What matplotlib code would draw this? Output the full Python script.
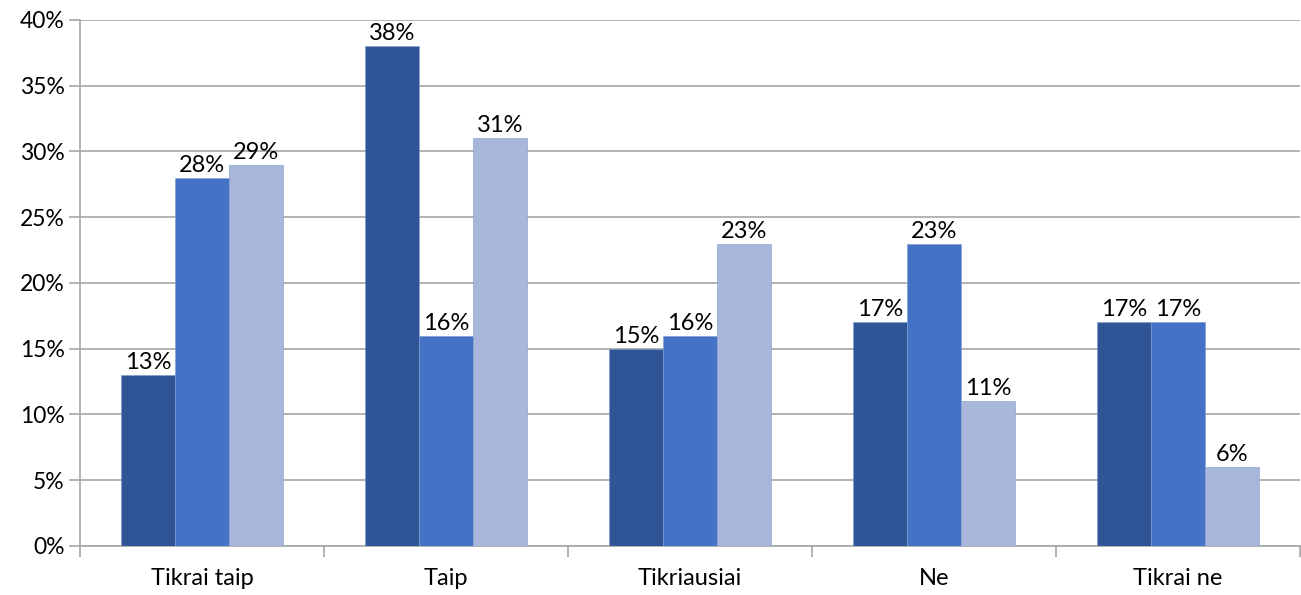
import matplotlib.pyplot as plt
import numpy as np

# kategorijos ir reiksmes (procentais)
kategorijos = ['Tikrai taip', 'Taip', 'Tikriausiai', 'Ne', 'Tikrai ne']
serija1 = [13, 38, 15, 17, 17]
serija2 = [28, 16, 16, 23, 17]
serija3 = [29, 31, 23, 11, 6]
spalvos = ['#2F5597', '#4472C4', '#A9B6DB']

plt.rcParams['font.family'] = ['Lato', 'DejaVu Sans']

fig = plt.figure(figsize=(13.01, 5.95), dpi=100)
ax = fig.add_axes([0.0615, 0.0824, 0.9377, 0.884])

x = np.arange(len(kategorijos))
w = 0.221
for k, (vals, c) in enumerate(zip([serija1, serija2, serija3], spalvos)):
    pos = x + (k - 1) * w
    ax.bar(pos, vals, w, color=c, edgecolor='#7F9BD0', linewidth=0.4, zorder=3)
    for p, v in zip(pos, vals):
        ax.text(p, v + 0.15, f'{v}%', ha='center', va='bottom', fontsize=17, color='black', zorder=4)

ax.set_xlim(-0.5, len(kategorijos) - 0.5)
ax.set_ylim(0, 40)
ax.set_yticks(np.arange(0, 41, 5))
ax.set_yticklabels([f'{t}%' for t in range(0, 41, 5)], fontsize=16.5)
ax.yaxis.grid(True, color='#A6A6A6', linewidth=1.2, zorder=0)

# kategoriju zymes per viduri, tick'ai ant riba
ax.set_xticks(np.arange(-0.5, len(kategorijos), 1))
ax.set_xticklabels([])
ax.set_xticks(x, minor=True)
ax.set_xticklabels(kategorijos, minor=True, fontsize=17)
ax.tick_params(axis='x', which='minor', length=0, pad=16)
ax.tick_params(axis='x', which='major', length=8, color='#A6A6A6', width=1.2)
ax.tick_params(axis='y', length=8, color='#A6A6A6', width=1.2, pad=3)

for s in ['top', 'right']:
    ax.spines[s].set_visible(False)
for s in ['left', 'bottom']:
    ax.spines[s].set_color('#A6A6A6')
    ax.spines[s].set_linewidth(1.2)

plt.savefig('out.png', dpi=100)
